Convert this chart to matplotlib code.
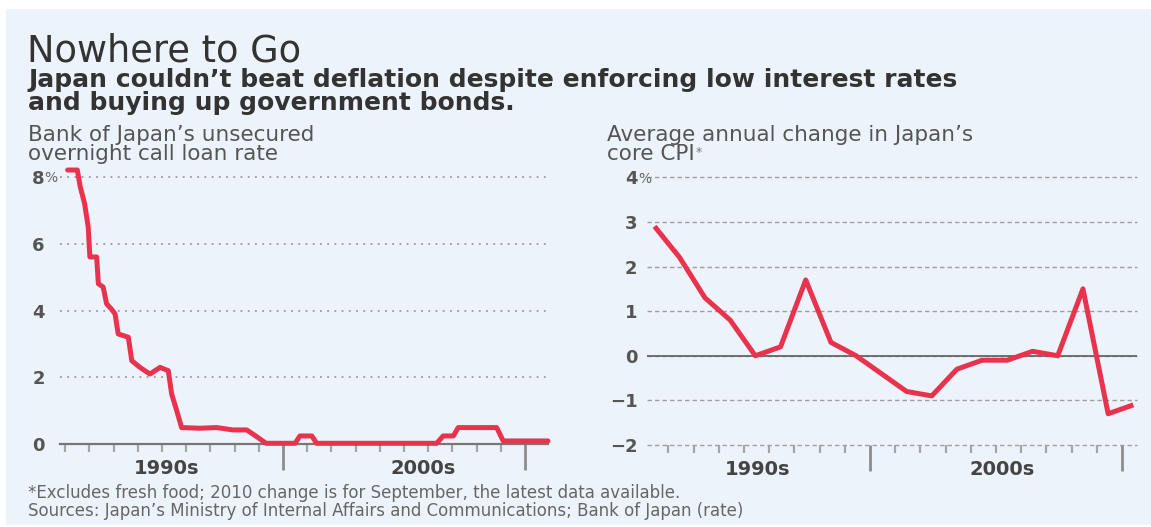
import matplotlib
matplotlib.use("Agg")
import matplotlib.pyplot as plt
from matplotlib.patches import Rectangle
from matplotlib.text import Annotation

# ---------------- data ----------------
rate_years = [1991.10, 1991.50, 1991.62, 1991.80, 1991.95, 1992.02, 1992.30, 1992.37,
              1992.57, 1992.71, 1992.90, 1993.06, 1993.19, 1993.61, 1993.75, 1994.09,
              1994.50, 1994.92, 1995.26, 1995.40, 1995.61, 1995.81, 1996.57, 1997.26,
              1997.93, 1998.50, 1998.91, 1999.30, 2000.50, 2000.70, 2001.19, 2001.39,
              2006.35, 2006.62, 2007.04, 2007.24, 2008.83, 2009.10, 2010.95]
rate_values = [8.2, 8.2, 7.7, 7.2, 6.5, 5.6, 5.6, 4.8,
               4.7, 4.2, 4.05, 3.9, 3.3, 3.2, 2.5, 2.3,
               2.1, 2.3, 2.2, 1.5, 1.0, 0.5, 0.48, 0.5,
               0.43, 0.43, 0.23, 0.03, 0.03, 0.25, 0.25, 0.03,
               0.03, 0.25, 0.25, 0.5, 0.5, 0.1, 0.1]

cpi_years = [1991, 1992, 1993, 1994, 1995, 1996, 1997, 1998, 1999, 2000,
             2001, 2002, 2003, 2004, 2005, 2006, 2007, 2008, 2009, 2010]
cpi_values = [2.9, 2.2, 1.3, 0.8, 0.0, 0.2, 1.7, 0.3, 0.0, -0.4,
              -0.8, -0.9, -0.3, -0.1, -0.1, 0.1, 0.0, 1.5, -1.3, -1.1]

rate_yticks = [0, 2, 4, 6, 8]
rate_ylabels = ["0", "2", "4", "6", "8"]
cpi_yticks = [-2, -1, 0, 1, 2, 3, 4]
cpi_ylabels = ["\u22122", "\u22121", "0", "1", "2", "3", "4"]
decade_labels = ["1990s", "2000s"]

title = "Nowhere to Go"
subtitle = ["Japan couldn\u2019t beat deflation despite enforcing low interest rates",
            "and buying up government bonds."]
left_title = ["Bank of Japan\u2019s unsecured", "overnight call loan rate"]
right_title = ["Average annual change in Japan\u2019s", "core CPI"]
notes = ["*Excludes fresh food; 2010 change is for September, the latest data available.",
         "Sources: Japan\u2019s Ministry of Internal Affairs and Communications; Bank of Japan (rate)"]

# ---------------- style ----------------
W, H = 1151, 527
BG = "#EDF3FB"
RED = "#E8334F"
plt.rcParams["font.family"] = ["DejaVu Sans"]

fig = plt.figure(figsize=(W / 100, H / 100), dpi=100, facecolor="white")
fig.patches.append(Rectangle((6 / W, 2 / H), (W - 6) / W, (525 - 9) / H,
                             transform=fig.transFigure, facecolor=BG,
                             edgecolor="none", zorder=-10))


def fx(px):
    return px / W


def fy(py):
    return 1 - py / H


def axes_px(x0, x1, ytop, ybot):
    return fig.add_axes([fx(x0), fy(ybot), (x1 - x0) / W, (ybot - ytop) / H])


# ---------------- texts ----------------
fig.text(fx(27), fy(61), title, fontsize=26.5, color="#333333", va="baseline")
fig.text(fx(28), fy(87), subtitle[0], fontsize=18, fontweight="bold", color="#333333", va="baseline")
fig.text(fx(28), fy(110), subtitle[1], fontsize=18, fontweight="bold", color="#333333", va="baseline")
fig.text(fx(28), fy(141), left_title[0], fontsize=15.5, color="#555555", va="baseline")
fig.text(fx(28), fy(160), left_title[1], fontsize=15.5, color="#555555", va="baseline")
fig.text(fx(607), fy(141), right_title[0], fontsize=15.5, color="#555555", va="baseline")
t_core = fig.text(fx(607), fy(160), right_title[1], fontsize=15.5, color="#555555", va="baseline")
fig.add_artist(Annotation("*", xy=(1.0, 0.0), xycoords=t_core,
                          xytext=(1.0, 3.5), textcoords="offset points",
                          ha="left", va="bottom", fontsize=9, color="#777777"))
fig.text(fx(28), fy(498.5), notes[0], fontsize=12, color="#666666", va="baseline")
fig.text(fx(28), fy(516), notes[1], fontsize=12, color="#666666", va="baseline")

# ---------------- left chart ----------------
axL = axes_px(60, 548, 176.7, 444.3)
axL.set_facecolor("none")
axL.set_xlim(1990.785, 2010.95)
axL.set_ylim(0, 8)
axL.plot(rate_years, rate_values, color=RED, lw=3.6, clip_on=False, zorder=5,
         solid_joinstyle="round", solid_capstyle="round")
axL.set_yticks(rate_yticks, rate_ylabels)
axL.yaxis.grid(True, linestyle=(0, (1, 3)), color="#9a9a9a", lw=1.3)
for gl in axL.get_ygridlines():
    gl.set_clip_on(False)
for s in ["top", "right", "left"]:
    axL.spines[s].set_visible(False)
axL.spines["bottom"].set_color("#777777")
axL.spines["bottom"].set_linewidth(1.6)
axL.spines["bottom"].set_zorder(4)
axL.tick_params(axis="y", length=0, pad=11, labelsize=13, labelcolor="#555555")
for t in axL.get_yticklabels():
    t.set_fontweight("bold")
axL.annotate("%", xy=(0, 8), xycoords=("axes fraction", "data"), xytext=(-11, 0),
             textcoords="offset points", ha="left", va="center_baseline",
             fontsize=10, color="#666666")

# ---------------- right chart ----------------
axR = axes_px(647, 1137, 177.3, 445)
axR.set_facecolor("none")
axR.set_xlim(1991.151, 2010.595)
axR.set_ylim(-2, 4)
axR.plot([y + 0.45 for y in cpi_years], cpi_values, color=RED, lw=3.6, zorder=5,
         clip_on=False, solid_joinstyle="round", solid_capstyle="butt")
axR.set_yticks(cpi_yticks, cpi_ylabels)
axR.yaxis.grid(True, linestyle=(0, (3.2, 2.2)), color="#a0a0a0", lw=1.0)
for gl in axR.get_ygridlines():
    gl.set_clip_on(False)
axR.axhline(0, color="#666666", lw=1.3, zorder=3)
for s in ["top", "right", "left", "bottom"]:
    axR.spines[s].set_visible(False)
axR.tick_params(axis="y", length=0, pad=7, labelsize=13, labelcolor="#555555")
for t in axR.get_yticklabels():
    t.set_fontweight("bold")
axR.annotate("%", xy=(0, 4), xycoords=("axes fraction", "data"), xytext=(-6.5, 0),
             textcoords="offset points", ha="left", va="center_baseline",
             fontsize=10, color="#666666")

# ---------------- shared x-axis ticks ----------------
for ax, lab_x in [(axL, [1995.2, 2005.8]), (axR, [1995.55, 2005.25])]:
    lo, hi = ax.get_xlim()
    majors = [y for y in range(1990, 2011, 10) if lo <= y <= hi + 0.5]
    minors = [y for y in range(1990, 2011) if lo <= y <= hi and y % 10 != 0]
    ax.set_xticks(majors, [""] * len(majors))
    ax.set_xticks(minors, minor=True)
    ax.tick_params(axis="x", which="major", direction="out", length=19, width=2.0,
                   color="#8c8c8c")
    ax.tick_params(axis="x", which="minor", direction="out", length=6, width=1.6,
                   color="#a5a5a5")
    for xl, lab in zip(lab_x, decade_labels):
        ax.text(xl, -0.09, lab, transform=ax.get_xaxis_transform(), ha="center",
                va="center", fontsize=14, fontweight="bold", color="#444444")

fig.savefig("out.png", dpi=100, facecolor="white")
